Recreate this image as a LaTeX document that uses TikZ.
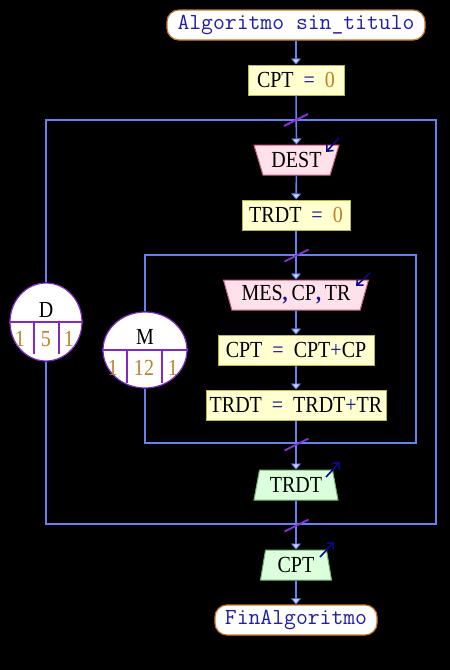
\documentclass[tikz,border=0pt]{standalone}
\usepackage{fontspec}
\setmainfont{Liberation Serif}[FakeStretch=0.87]
\usetikzlibrary{shapes.geometric,arrows.meta,calc}

\definecolor{flow}{RGB}{100,130,240}
\definecolor{arrfill}{RGB}{200,215,255}
\definecolor{slashc}{RGB}{140,50,220}
\definecolor{circc}{RGB}{130,40,200}
\definecolor{termb}{RGB}{200,120,40}
\definecolor{termt}{RGB}{30,30,170}
\definecolor{procf}{RGB}{255,255,208}
\definecolor{procb}{RGB}{185,185,70}
\definecolor{inf}{RGB}{255,225,235}
\definecolor{inb}{RGB}{200,90,130}
\definecolor{outf}{RGB}{220,255,220}
\definecolor{outb}{RGB}{110,180,110}
\definecolor{numc}{RGB}{190,130,40}
\definecolor{opc}{RGB}{20,20,150}
\definecolor{ioarr}{RGB}{10,10,140}

\newcommand{\nm}[1]{\textcolor{numc}{#1}}
\newcommand{\op}[1]{\textcolor{opc}{#1}}

\begin{document}
\begin{tikzpicture}[x=1pt,y=-1pt,
 txt/.style={font=\fontsize{23}{23}\selectfont},
 term/.style={draw=termb, line width=1.2pt, fill=white, rounded corners=12pt, minimum height=30pt, inner sep=0pt, font=\ttfamily\fontsize{23}{23}\selectfont, text=termt},
 proc/.style={txt, draw=procb, line width=1pt, fill=procf, minimum height=30pt, inner sep=0pt},
 inp/.style={txt, trapezium, trapezium stretches body, draw=inb, fill=inf, line width=1pt, minimum height=30pt, inner sep=0pt},
 outp/.style={txt, trapezium, trapezium stretches body, draw=outb, fill=outf, line width=1pt, minimum height=30pt, inner sep=0pt},
 flowline/.style={draw=flow, line width=1.6pt},
 flowarrow/.style={flowline, -{Triangle[width=10pt,length=6pt,fill=arrfill,line width=0.8pt]}},
 slash/.style={draw=slashc, line width=1.8pt},
 ioarrow/.style={draw=ioarr, line width=1.6pt, -{Straight Barb[length=5pt,width=9pt]}},
 loopc/.style={ellipse, draw=circc, fill=white, line width=1.2pt, inner sep=0pt},
 divline/.style={draw=circc, line width=1.2pt},
 numtxt/.style={txt, text=numc, inner sep=0pt}
]
\path[use as bounding box, fill=black] (0,0) rectangle (450,670);

% main nodes
\node[term, minimum width=258pt] (title) at (296,25) {Algoritmo sin\_titulo};
\node[proc, minimum width=96pt] (cpt0) at (296,80) {CPT~~\op{=}~~\nm{0}};
\node[inp, trapezium left angle=120, trapezium right angle=120, minimum width=85pt] (dest) at (296.5,160) {DEST};
\node[proc, minimum width=108pt] (trdt0) at (296,215) {TRDT~~\op{=}~~\nm{0}};
\node[inp, trapezium left angle=114, trapezium right angle=114, minimum width=145pt] (mes) at (296,295) {MES\op{\textbf{,}}\,CP\op{\textbf{,}}\,TR};
\node[proc, minimum width=156pt] (cpt1) at (296,350) {CPT~~\op{=}~~CPT\op{+}CP};
\node[proc, minimum width=180pt] (trdt1) at (296,405) {TRDT~~\op{=}~~TRDT\op{+}TR};
\node[outp, trapezium left angle=70, trapezium right angle=70, minimum width=84pt] (trdtout) at (296,485) {TRDT};
\node[outp, trapezium left angle=72, trapezium right angle=72, minimum width=71pt] (cptout) at (296,565) {CPT};
\node[term, minimum width=162pt] (fin) at (296,620) {FinAlgoritmo};

% loop circles
\node[loopc, minimum width=72pt, minimum height=78pt] (D) at (46,322) {};
\node[loopc, minimum width=84pt, minimum height=76pt] (M) at (145,350) {};

% loop frames
\coordinate (otl) at (46,120);
\coordinate (otr) at (436,120);
\coordinate (obr) at (436,524);
\coordinate (obl) at (46,524);
\coordinate (itl) at (145,255);
\coordinate (itr) at (416,255);
\coordinate (ibr) at (416,443);
\coordinate (ibl) at (145,443);
\draw[flowline] (D.north) -- (otl) -- (otr) -- (obr) -- (obl) -- (D.south);
\draw[flowline] (M.north) -- (itl) -- (itr) -- (ibr) -- (ibl) -- (M.south);

% main flow
\draw[flowarrow] (title) -- (cpt0);
\draw[flowarrow] (cpt0) -- (dest);
\draw[flowarrow] (dest) -- (trdt0);
\draw[flowarrow] (trdt0) -- (mes);
\draw[flowarrow] (mes) -- (cpt1);
\draw[flowarrow] (cpt1) -- (trdt1);
\draw[flowarrow] (trdt1) -- (trdtout);
\draw[flowarrow] (trdtout) -- (cptout);
\draw[flowarrow] (cptout) -- (fin);

% loop slashes
\coordinate (s1) at (296,120);
\coordinate (s2) at (296.5,255.5);
\coordinate (s3) at (296.5,444.5);
\coordinate (s4) at (296.5,525.5);
\foreach \s in {s1,s2,s3,s4}{
  \draw[slash] ([shift={(-12,6)}]\s) -- ([shift={(12,-6)}]\s);
}

% io arrows
\coordinate (da1) at (339,138);
\coordinate (da2) at (326,152);
\coordinate (ma1) at (370,273);
\coordinate (ma2) at (356,286);
\coordinate (ta1) at (326,477);
\coordinate (ta2) at (340,462);
\coordinate (ca1) at (320,557);
\coordinate (ca2) at (334,542);
\draw[ioarrow] (da1) -- (da2);
\draw[ioarrow] (ma1) -- (ma2);
\draw[ioarrow] (ta1) -- (ta2);
\draw[ioarrow] (ca1) -- (ca2);

% D circle contents
\draw[divline] (D.west) -- (D.east);
\coordinate (d1) at (34,322);
\coordinate (d2) at (59,322);
\draw[divline] (d1) -- ++(0,32);
\draw[divline] (d2) -- ++(0,32);
\node[txt, inner sep=0pt] (Dl) at (46,310) {D};
\node[numtxt] (Da) at (20,339) {1};
\node[numtxt] (Db) at (46,339) {5};
\node[numtxt] (Dc) at (69,339) {1};

% M circle contents
\draw[divline] (M.west) -- (M.east);
\coordinate (m1) at (127,350);
\coordinate (m2) at (162,350);
\draw[divline] (m1) -- ++(0,33);
\draw[divline] (m2) -- ++(0,33);
\node[txt, inner sep=0pt] (Ml) at (145,337) {M};
\node[numtxt] (Ma) at (113,368) {1};
\node[numtxt] (Mb) at (144,368) {12};
\node[numtxt] (Mc) at (173,368) {1};
\end{tikzpicture}
\end{document}
